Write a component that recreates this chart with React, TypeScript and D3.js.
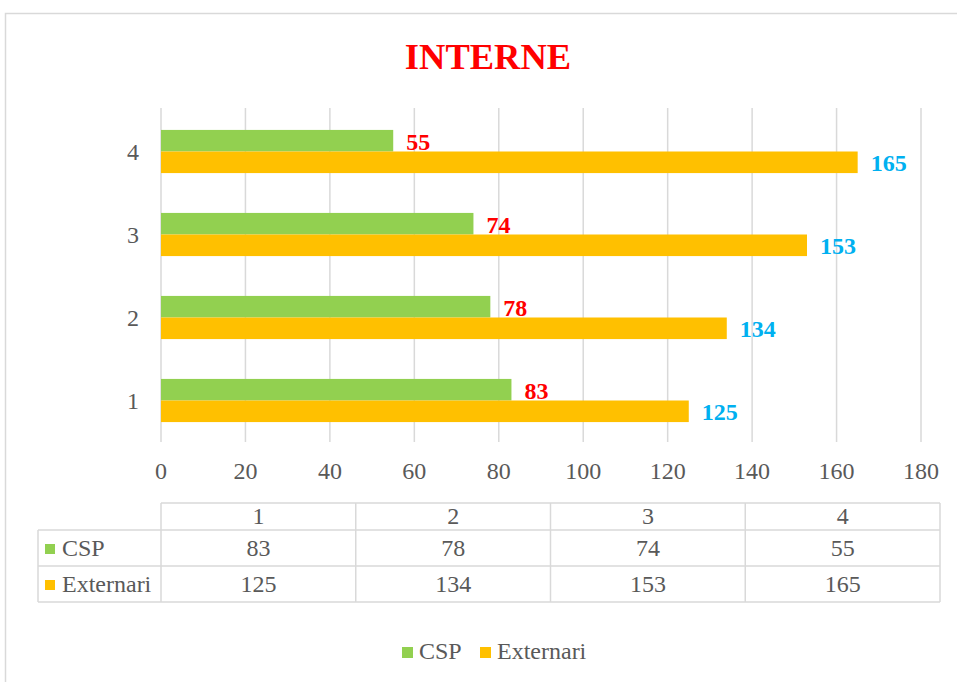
import React from "react";
import * as d3 from "d3";

const categories = ["1", "2", "3", "4"];
const seriesNames = ["CSP", "Externari"];
const cspValues = [83, 78, 74, 55];
const externariValues = [125, 134, 153, 165];
const xTicks = [0, 20, 40, 60, 80, 100, 120, 140, 160, 180];

const seriesColors = ["#92d050", "#ffc000"];
const labelColors = ["#ff0000", "#00b0f0"];
const textGray = "#595959";
const gridGray = "#d9d9d9";
const FONT = "'Liberation Serif', 'Times New Roman', serif";

export default function App() {
  const W = 957, H = 682;
  const plotLeft = 161, plotRight = 921, plotTop = 110, plotBottom = 442;
  const x = d3.scaleLinear().domain([0, 180]).range([plotLeft, plotRight]);
  const y = d3
    .scaleBand<string>()
    .domain([...categories].reverse())
    .range([plotTop, plotBottom])
    .paddingInner(0.48)
    .paddingOuter(0.24);
  const inner = d3.scaleBand<string>().domain(seriesNames).range([0, y.bandwidth()]);
  const seriesValues = [cspValues, externariValues];

  const tableLeft = 161, tableRight = 940, keyLeft = 38;
  const rowLines = [503, 530, 566, 602];
  const col = d3.scaleBand<string>().domain(categories).range([tableLeft, tableRight]);
  const rowBaselines = [524, 556, 592];
  const fs = 24;

  return (
    <svg
      width={W}
      height={H}
      style={{ position: "absolute", left: 0, top: 0, background: "#fff" }}
      fontFamily={FONT}
    >
      <rect x={0} y={0} width={W} height={H} fill="#fff" />
      <rect x={5.5} y={13.5} width={1000} height={800} fill="none" stroke={gridGray} strokeWidth={1.5} />
      <text x={488} y={69} textAnchor="middle" fontSize={36.5} fontWeight="bold" fill="#ff0000">
        INTERNE
      </text>

      {xTicks.map((t) => (
        <line key={t} x1={x(t)} x2={x(t)} y1={plotTop - 2} y2={plotBottom} stroke={gridGray} strokeWidth={1.5} />
      ))}
      {xTicks.map((t) => (
        <text key={"l" + t} x={x(t)} y={479} textAnchor="middle" fontSize={fs} fill={textGray}>
          {t}
        </text>
      ))}

      {categories.map((c, ci) =>
        seriesNames.map((s, si) => {
          const v = seriesValues[si][ci];
          const y0 = (y(c) as number) + (inner(s) as number);
          const bh = inner.bandwidth();
          return (
            <g key={c + s}>
              <rect x={x(0)} y={y0} width={x(v) - x(0)} height={bh} fill={seriesColors[si]} />
              <text
                x={x(v) + 13}
                y={y0 + bh / 2 + 1}
                dominantBaseline="central"
                fontSize={fs}
                fontWeight="bold"
                fill={labelColors[si]}
              >
                {v}
              </text>
            </g>
          );
        })
      )}

      {categories.map((c) => (
        <text
          key={"y" + c}
          x={139}
          y={(y(c) as number) + y.bandwidth() / 2}
          dominantBaseline="central"
          textAnchor="end"
          fontSize={fs}
          fill={textGray}
        >
          {c}
        </text>
      ))}

      {/* data table */}
      <g stroke={gridGray} strokeWidth={1.5} fill="none">
        <line x1={tableLeft} x2={tableRight} y1={rowLines[0]} y2={rowLines[0]} />
        {rowLines.slice(1).map((ly) => (
          <line key={ly} x1={keyLeft} x2={tableRight} y1={ly} y2={ly} />
        ))}
        <line x1={keyLeft} x2={keyLeft} y1={rowLines[1]} y2={rowLines[3]} />
        {categories.map((c) => (
          <line key={c} x1={col(c) as number} x2={col(c) as number} y1={rowLines[0]} y2={rowLines[3]} />
        ))}
        <line x1={tableRight} x2={tableRight} y1={rowLines[0]} y2={rowLines[3]} />
      </g>
      {categories.map((c) => (
        <text
          key={"h" + c}
          x={(col(c) as number) + col.bandwidth() / 2}
          y={rowBaselines[0]}
          textAnchor="middle"
          fontSize={fs}
          fill={textGray}
        >
          {c}
        </text>
      ))}
      {seriesNames.map((s, si) => (
        <g key={"row" + s}>
          <rect x={45} y={rowBaselines[si + 1] - 12} width={10} height={10} fill={seriesColors[si]} />
          <text x={62} y={rowBaselines[si + 1]} fontSize={fs} fill={textGray}>
            {s}
          </text>
          {categories.map((c, ci) => (
            <text
              key={c}
              x={(col(c) as number) + col.bandwidth() / 2}
              y={rowBaselines[si + 1]}
              textAnchor="middle"
              fontSize={fs}
              fill={textGray}
            >
              {seriesValues[si][ci]}
            </text>
          ))}
        </g>
      ))}

      {/* legend */}
      {seriesNames.map((s, si) => {
        const lx = [402, 480][si];
        return (
          <g key={"lg" + s}>
            <rect x={lx} y={647} width={11} height={11} fill={seriesColors[si]} />
            <text x={lx + 17} y={659} fontSize={fs} fill={textGray}>
              {s}
            </text>
          </g>
        );
      })}
    </svg>
  );
}
